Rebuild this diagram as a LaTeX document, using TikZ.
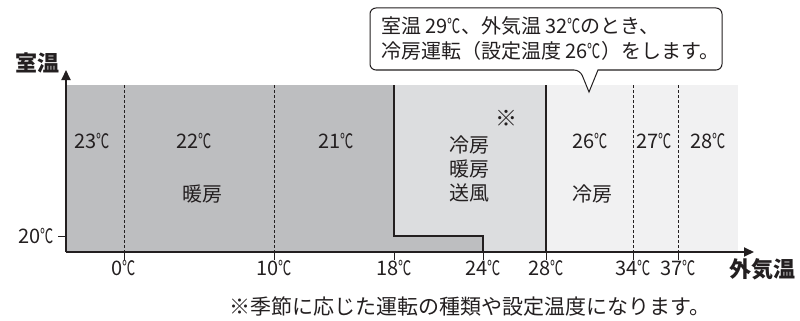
\documentclass[tikz,border=0pt]{standalone}
\usepackage{graphicx}
\usepackage{fontspec}
\setmainfont{Noto Sans CJK JP}
\usetikzlibrary{arrows.meta,positioning,calc}
\definecolor{inkgray}{HTML}{231F20}
\definecolor{heatfill}{HTML}{BDBEC0}
\definecolor{mixfill}{HTML}{DCDDDF}
\definecolor{coolfill}{HTML}{F1F1F2}
\def\chartTop{85}
\def\chartBottom{252}
\def\stepLevel{236}
\def\tickLength{8}
\newcommand{\degc}{\scalebox{0.66}[1]{℃}}

\begin{document}
\begin{tikzpicture}[x=1pt,y=-1pt,
    every node/.style={text=inkgray,font=\fontsize{20}{24}\selectfont,inner sep=0pt},
    axislabel/.style={font=\fontsize{22}{24}\selectfont\bfseries},
    divider/.style={draw=inkgray,line width=0.8pt,dash pattern=on 3pt off 2pt},
    border/.style={draw=inkgray,line width=1.4pt}]
  \useasboundingbox (0,0) rectangle (800,321);

  \coordinate (origin) at (66,\chartBottom);
  \coordinate (yend) at (66,70);
  \coordinate (xend) at (754,\chartBottom);

  % regions
  \fill[heatfill] (66,\chartTop) -- (394,\chartTop) -- (394,\stepLevel) -- (483,\stepLevel)
    -- (483,\chartBottom) -- (66,\chartBottom) -- cycle;
  \fill[mixfill] (394,\chartTop) -- (546,\chartTop) -- (546,\chartBottom) -- (483,\chartBottom)
    -- (483,\stepLevel) -- (394,\stepLevel) -- cycle;
  \fill[coolfill] (546,\chartTop) rectangle (738,\chartBottom);

  % dividers
  \foreach \x in {124,274,633,678}
    \draw[divider] (\x,\chartTop) -- (\x,\chartBottom);
  \draw[border] (394,\chartTop) -- (394,\stepLevel) -- (483,\stepLevel) -- (483,\chartBottom);
  \draw[border] (546,\chartTop) -- (546,\chartBottom);

  % axes
  \draw[draw=inkgray,line width=2pt,-{Triangle[length=10pt,width=9pt]}] (origin) -- (yend);
  \draw[draw=inkgray,line width=2pt,-{Triangle[length=10pt,width=9pt]}] (origin) -- (xend);
  \node[axislabel] (room-label) at (37,63) {室温};
  \node[axislabel] (out-label) at (762,269) {外気温};

  \draw[draw=inkgray,line width=0.8pt] (origin |- 0,\stepLevel) -- ++(-\tickLength,0) coordinate (ytick);
  \node[anchor=east] (room-twenty) at ($ (ytick) + (-4,0) $) {20\degc};

  \foreach \t/\x in {0/124,10/274,18/394,24/483,28/546,34/633,37/678} {
    \draw[draw=inkgray,line width=0.8pt] (\x,\chartBottom) -- ++(0,\tickLength);
    \node (out-\t) at (\x,268) {\t\degc};
  }

  % set temperatures
  \node (set-23) at (92,141) {23\degc};
  \node (set-22) at (194,141) {22\degc};
  \node (set-21) at (336,141) {21\degc};
  \node (heat-mode) at (202,194) {暖房};
  \node[align=center] (mix-mode) at (469,169) {冷房\\暖房\\送風};
  \node[font=\fontsize{22}{24}\selectfont] (mix-note) at (506,118) {※};
  \node (set-26) at (590,141) {26\degc};
  \node (set-27) at (654,141) {27\degc};
  \node (set-28) at (708,141) {28\degc};
  \node (cool-mode) at (592,194) {冷房};

  % callout
  \draw[draw=inkgray,line width=1pt,fill=white] (580,70) -- (589,92) -- (598,70)
    [rounded corners=6pt] -- (722,70) -- (722,8) -- (370,8) -- (370,70) -- cycle;
  \node[anchor=west,align=left,font=\fontsize{20}{25}\selectfont] (callout-text) at (381,39)
    {室温 29\degc、外気温 32\degc のとき、\\冷房運転（設定温度 26\degc）をします。};

  \node[font=\fontsize{21}{24}\selectfont] (footnote) at (470,307) {※季節に応じた運転の種類や設定温度になります。};
\end{tikzpicture}
\end{document}
